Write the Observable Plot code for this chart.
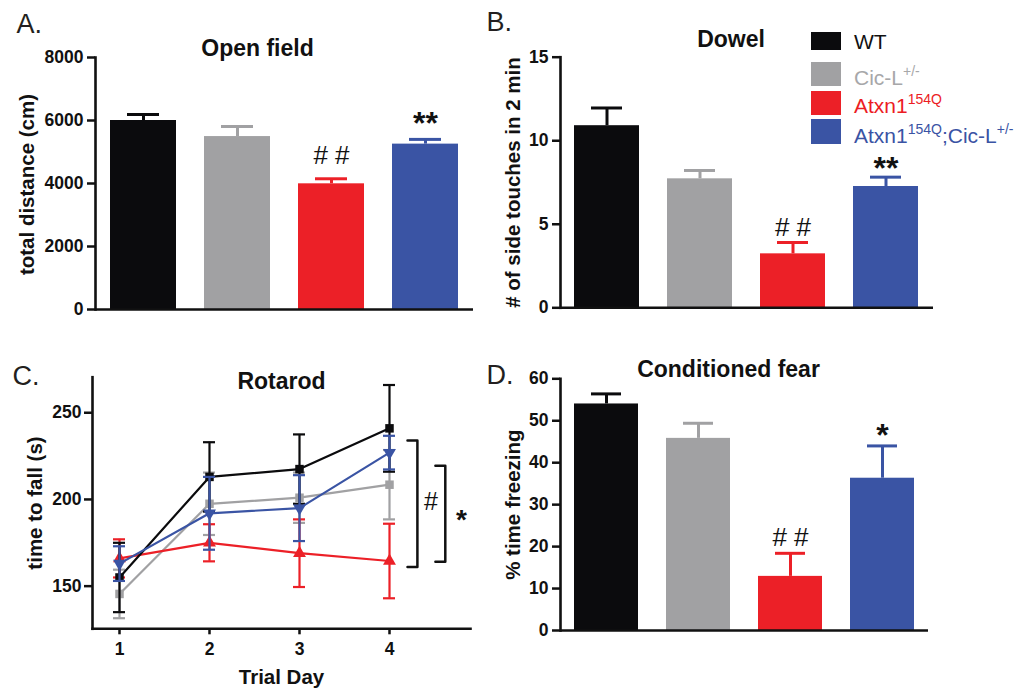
<!DOCTYPE html>
<html><head><meta charset="utf-8">
<script src="https://cdn.jsdelivr.net/npm/d3@7"></script>
<script src="https://cdn.jsdelivr.net/npm/@observablehq/plot@0.6"></script>
<style>
body{margin:0;background:#fff;font-family:"Liberation Sans",Arial,Helvetica,sans-serif;}
#wrap{position:relative;width:1030px;height:692px;overflow:hidden;background:#fff;}
.panel{position:absolute;}
.panel svg{background:transparent;overflow:visible;}
.legrow{position:absolute;left:811px;}
.sw{position:absolute;left:0;width:30px;}
.lt{position:absolute;left:43px;white-space:nowrap;font-size:21px;line-height:21px;}
.lt span{font-size:14px;position:relative;top:-9px;}
</style></head><body><div id="wrap"></div>
<script>
// ---- data ----
const groups = ["WT", "Cic-L+/-", "Atxn1 154Q", "Atxn1 154Q;Cic-L+/-"];
const groupColors = ["#0b0b0d", "#a1a1a3", "#ec2027", "#3a54a4"];

const openFieldMean = [6000, 5490, 3990, 5250];
const openFieldSem = [190, 320, 160, 150];
const openFieldSig = ["", "", "# #", "**"];

const dowelMean = [10.9, 7.72, 3.23, 7.26];
const dowelSem = [1.06, 0.5, 0.68, 0.56];
const dowelSig = ["", "", "# #", "**"];

const fearMean = [54.0, 45.8, 12.9, 36.3];
const fearSem = [2.4, 3.6, 5.5, 7.7];
const fearSig = ["", "", "# #", "*"];

const days = [1, 2, 3, 4];
const rotWT = [155, 213, 217.5, 241];
const rotWTSem = [20, 20, 20, 25];
const rotCic = [145.5, 197.5, 201, 208.5];
const rotCicSem = [14, 18, 14.5, 20];
const rotAtxn = [166, 175, 169, 164.5];
const rotAtxnSem = [11, 10.7, 19.5, 21.5];
const rotDouble = [163, 192, 195, 227];
const rotDoubleSem = [10, 21, 19, 9.7];

const rotBrackets = [
  {label: "#", x1: 4.2, x2: 4.31, y1: 161, y2: 234, lx: 4.46, size: 25, weight: "normal", dy: -2},
  {label: "*", x1: 4.51, x2: 4.62, y1: 164, y2: 219.5, lx: 4.8, size: 28, weight: "bold", dy: 6}
];

const legendBase = ["WT", "Cic-L", "Atxn1", "Atxn1"];
const legendSup = ["", "+/-", "154Q", "154Q"];
const legendTail = ["", "", "", ";Cic-L"];
const legendTailSup = ["", "", "", "+/-"];

// ---- helpers ----
const FONT = "Liberation Sans, Arial, Helvetica, sans-serif";
const wrap = document.getElementById("wrap");
function place(svg, left, top) {
  const d = document.createElement("div");
  d.className = "panel";
  d.style.left = left + "px";
  d.style.top = top + "px";
  d.appendChild(svg);
  wrap.appendChild(d);
}

function barPanel(cfg) {
  const rows = groups.map((g, i) => ({g, mean: cfg.mean[i], hi: cfg.mean[i] + cfg.sem[i], color: groupColors[i], sig: cfg.sig[i]}));
  return Plot.plot({
    width: cfg.width, height: cfg.height,
    marginLeft: cfg.ml, marginRight: cfg.mr, marginTop: cfg.mt, marginBottom: cfg.mb,
    style: {fontFamily: FONT, background: "transparent", color: "#111"},
    x: {domain: groups, paddingInner: 0.3, paddingOuter: 0.15, axis: null},
    y: {domain: cfg.domain, axis: null},
    marks: [
      Plot.barY(rows, {x: "g", y: "mean", fill: "color"}),
      Plot.ruleX(rows, {x: "g", y1: "mean", y2: "hi", stroke: "color", strokeWidth: 3}),
      Plot.tickY(rows, {x: "g", y: "hi", stroke: "color", strokeWidth: 3, inset: 17}),
      Plot.text(rows.filter(d => d.sig.startsWith("#")), {x: "g", y: "hi", text: "sig", lineAnchor: "bottom", dy: cfg.hashDy, fontSize: 26, fill: "#111"}),
      Plot.text(rows.filter(d => d.sig.startsWith("*")), {x: "g", y: "hi", text: "sig", lineAnchor: "bottom", dy: cfg.starDy, fontSize: 32, fontWeight: "bold", fill: "#111"}),
      Plot.axisY({ticks: cfg.ticks, tickFormat: d => String(d), tickSize: 8, tickPadding: 4, fontSize: 17.5, fontWeight: "bold", strokeWidth: 2.5, label: null}),
      Plot.frame({anchor: "left", strokeWidth: 2.6, stroke: "#111"}),
      Plot.ruleY([cfg.domain[0]], {strokeWidth: 2.6, stroke: "#111"}),
      Plot.text([cfg.title], {frameAnchor: "top", dx: cfg.titleDx, dy: cfg.titleDy, lineAnchor: "bottom", fontSize: 23, fontWeight: "bold", fill: "#111"}),
      Plot.text([cfg.ylabel], {frameAnchor: "left", textAnchor: "middle", lineAnchor: "middle", rotate: -90, dx: cfg.ylabDx, dy: cfg.ylabDy, fontSize: 20.5, fontWeight: "bold", fill: "#111"}),
      Plot.text([cfg.letter], {frameAnchor: "top-left", dx: cfg.letDx, dy: cfg.letDy, textAnchor: "start", lineAnchor: "bottom", fontSize: 27, fill: "#231f20"})
    ]
  });
}

// ---- Panel A ----
place(barPanel({
  width: 480, height: 340, ml: 95, mr: 7, mt: 57, mb: 31,
  mean: openFieldMean, sem: openFieldSem, sig: openFieldSig,
  domain: [0, 8000], ticks: [0, 2000, 4000, 6000, 8000],
  title: "Open field", titleDx: -27, titleDy: -2,
  ylabel: "total distance (cm)", ylabDx: -68, ylabDy: 1,
  letter: "A.", letDx: -79, letDy: -25,
  hashDy: -15, starDy: -5
}), 0, 0);

// ---- Panel B ----
place(barPanel({
  width: 480, height: 340, ml: 80, mr: 27, mt: 56.7, mb: 32.7,
  mean: dowelMean, sem: dowelSem, sig: dowelSig,
  domain: [0, 15], ticks: [0, 5, 10, 15],
  title: "Dowel", titleDx: -16, titleDy: -10,
  ylabel: "# of side touches in 2 min", ylabDx: -47.5, ylabDy: 0,
  letter: "B.", letDx: -74, letDy: -26.7,
  hashDy: -6, starDy: 2
}), 480, 0);

// ---- Panel D ----
place(barPanel({
  width: 480, height: 347, ml: 80, mr: 32, mt: 33.3, mb: 62,
  mean: fearMean, sem: fearSem, sig: fearSig,
  domain: [0, 60], ticks: [0, 10, 20, 30, 40, 50, 60],
  title: "Conditioned fear", titleDx: -16, titleDy: -1.6,
  ylabel: "% time freezing", ylabDx: -47, ylabDy: 0,
  letter: "D.", letDx: -74, letDy: 5,
  hashDy: -7, starDy: 0
}), 480, 345);

// ---- Panel C ----
const series = [
  {name: groups[1], color: groupColors[1], mean: rotCic, sem: rotCicSem, symbol: "square", rotate: 0},
  {name: groups[2], color: groupColors[2], mean: rotAtxn, sem: rotAtxnSem, symbol: "triangle", rotate: 0},
  {name: groups[0], color: groupColors[0], mean: rotWT, sem: rotWTSem, symbol: "square", rotate: 0},
  {name: groups[3], color: groupColors[3], mean: rotDouble, sem: rotDoubleSem, symbol: "triangle", rotate: 180}
];
const rotMarks = [];
for (const s of series) {
  const pts = days.map((d, i) => ({day: d, v: s.mean[i], lo: s.mean[i] - s.sem[i], hi: s.mean[i] + s.sem[i]}));
  rotMarks.push(
    Plot.ruleX(pts, {x: "day", y1: "lo", y2: "hi", stroke: s.color, strokeWidth: 2.2}),
    Plot.ruleY(pts, {y: "hi", x1: "day", x2: "day", insetLeft: -6, insetRight: -6, stroke: s.color, strokeWidth: 2.2}),
    Plot.ruleY(pts, {y: "lo", x1: "day", x2: "day", insetLeft: -6, insetRight: -6, stroke: s.color, strokeWidth: 2.2}),
    Plot.line(pts, {x: "day", y: "v", stroke: s.color, strokeWidth: 2.2}),
    Plot.dot(pts, {x: "day", y: "v", symbol: s.symbol, r: 4.8, fill: s.color, rotate: s.rotate})
  );
}
const bracketPaths = rotBrackets.flatMap((b, k) => [
  {k, x: b.x1, y: b.y2}, {k, x: b.x2, y: b.y2}, {k, x: b.x2, y: b.y1}, {k, x: b.x1, y: b.y1}
]);
place(Plot.plot({
  width: 500, height: 347, marginLeft: 92, marginRight: 30, marginTop: 31.7, marginBottom: 63.7,
  style: {fontFamily: FONT, background: "transparent", color: "#111"},
  x: {domain: [0.7, 4.9], axis: null},
  y: {domain: [125.4, 270.5], axis: null},
  marks: [
    ...rotMarks,
    Plot.line(bracketPaths, {x: "x", y: "y", z: "k", stroke: "#111", strokeWidth: 2.5}),
    ...rotBrackets.map(b => Plot.text([b], {x: "lx", y: d => (d.y1 + d.y2) / 2, text: "label", fontSize: b.size, fontWeight: b.weight, fill: "#111", dy: b.dy})),
    Plot.axisY({ticks: [150, 200, 250], tickSize: 8, tickPadding: 3, fontSize: 17.5, fontWeight: "bold", strokeWidth: 2.5, label: null}),
    Plot.axisX({ticks: days, tickFormat: d => String(d), tickSize: 6, tickPadding: 8, fontSize: 17.5, fontWeight: "bold", strokeWidth: 2.5, label: null}),
    Plot.frame({anchor: "left", strokeWidth: 2.6, stroke: "#111"}),
    Plot.frame({anchor: "bottom", strokeWidth: 2.6, stroke: "#111"}),
    Plot.text(["Rotarod"], {frameAnchor: "top", dx: 0, dy: 12, lineAnchor: "bottom", fontSize: 23, fontWeight: "bold", fill: "#111"}),
    Plot.text(["time to fall (s)"], {frameAnchor: "left", textAnchor: "middle", lineAnchor: "middle", rotate: -90, dx: -57, dy: 0, fontSize: 20.5, fontWeight: "bold", fill: "#111"}),
    Plot.text(["Trial Day"], {frameAnchor: "bottom", dy: 55, lineAnchor: "bottom", fontSize: 20.5, fontWeight: "bold", fill: "#111"}),
    Plot.text(["C."], {frameAnchor: "top-left", dx: -80, dy: 7.3, textAnchor: "start", lineAnchor: "bottom", fontSize: 27, fill: "#231f20"})
  ]
}), 0, 345);

// ---- Legend ----
const rowTop = [32, 62, 90.5, 119];
const rowH = [18, 24, 24, 25];
const textColors = ["#111111", "#a7a7a9", "#ec1c24", "#3a53a4"];
groups.forEach((g, i) => {
  const row = document.createElement("div");
  row.className = "legrow";
  row.style.top = rowTop[i] + "px";
  const sw = document.createElement("div");
  sw.className = "sw";
  sw.style.top = "0px";
  sw.style.height = rowH[i] + "px";
  sw.style.background = groupColors[i];
  row.appendChild(sw);
  const t = document.createElement("div");
  t.className = "lt";
  t.style.color = textColors[i];
  t.style.top = (rowH[i] - 2 - 17.4) + "px";
  t.append(legendBase[i]);
  if (legendSup[i]) { const s = document.createElement("span"); s.textContent = legendSup[i]; t.append(s); }
  if (legendTail[i]) t.append(legendTail[i]);
  if (legendTailSup[i]) { const s = document.createElement("span"); s.textContent = legendTailSup[i]; t.append(s); }
  row.appendChild(t);
  wrap.appendChild(row);
});
</script></body></html>
